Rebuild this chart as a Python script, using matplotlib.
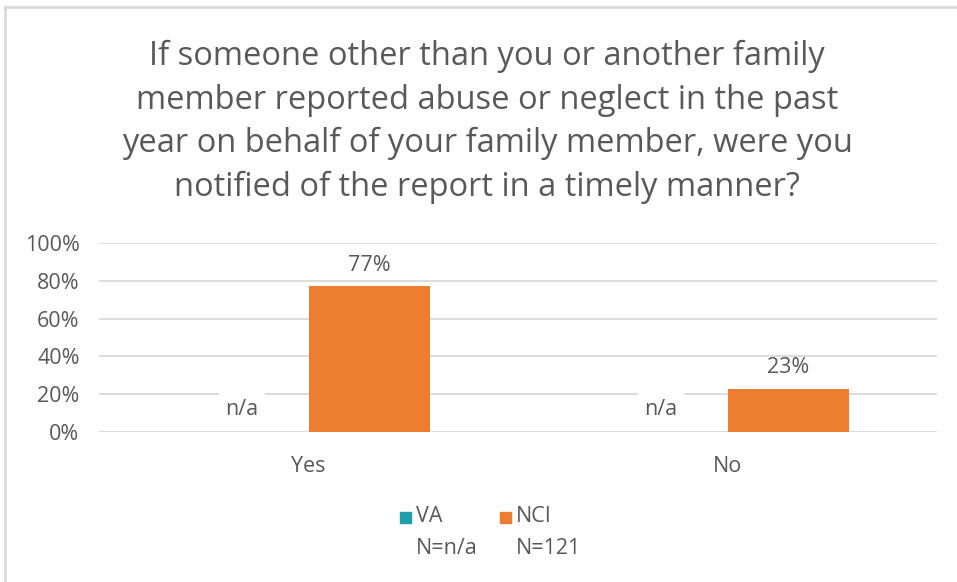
import numpy as np
import matplotlib.pyplot as plt
from matplotlib.lines import Line2D
from matplotlib.patches import Rectangle

plt.rcParams['font.family'] = ['Open Sans', 'DejaVu Sans']

# data
categories = ['Yes', 'No']
series = ['VA', 'NCI']
va_values = [0, 0]
nci_values = [77, 23]
va_labels = ['n/a', 'n/a']
nci_labels = ['77%', '23%']
n_labels = ['N=n/a', 'N=121']
colors = ['#1F9FAA', '#ED7D31']
title = ('If someone other than you or another family\n'
         'member reported abuse or neglect in the past\n'
         'year on behalf of your family member, were you\n'
         'notified of the report in a timely manner?')

text_color = '#595959'
grid_color = '#D9D9D9'
fs = 15.5

fig = plt.figure(figsize=(9.57, 5.82), dpi=100)
W, H = 957, 582
ax = fig.add_axes([99 / W, 1 - 432 / H, (937 - 99) / W, (432 - 243) / H])

x = np.arange(len(categories))
bw = 0.289
ax.bar(x - bw / 2, va_values, bw, color=colors[0], zorder=2)
ax.bar(x + bw / 2, nci_values, bw, color=colors[1], zorder=2)

for i in range(len(categories)):
    ax.text(x[i] + bw / 2, nci_values[i] + 5.5, nci_labels[i], ha='center', va='bottom',
            fontsize=fs, color=text_color)
    ax.text(x[i] - bw / 2 - 0.015, va_values[i] + 12, va_labels[i], ha='center', va='center',
            fontsize=fs, color=text_color, zorder=3,
            bbox=dict(boxstyle='square,pad=0.3', fc='white', ec='none'))

ax.set_xlim(-0.5, 1.5)
ax.set_ylim(0, 100)
ax.set_yticks(np.arange(0, 101, 20))
ax.set_yticklabels([f'{v}%' for v in range(0, 101, 20)])
ax.set_xticks(x)
ax.set_xticklabels(categories)
ax.tick_params(axis='both', length=0, labelsize=fs, colors=text_color)
ax.tick_params(axis='x', pad=17)
ax.tick_params(axis='y', pad=14)
ax.grid(axis='y', color=grid_color, linewidth=1.3, zorder=0)
for s in ax.spines.values():
    s.set_visible(False)

fig.text(487 / W, 1 - 122 / H, title, ha='center', va='center', fontsize=23.5,
         color=text_color, linespacing=1.42)

# legend
for i, name in enumerate(series):
    lx = [400, 500][i]
    fig.patches.append(Rectangle((lx / W, 1 - 523 / H), 11 / W, 11 / H,
                                 transform=fig.transFigure, color=colors[i]))
    fig.text((lx + 16) / W, 1 - 517 / H, name, ha='left', va='center',
             fontsize=fs, color=text_color)
    fig.text((lx + 16) / W, 1 - 548 / H, n_labels[i], ha='left', va='center',
             fontsize=fs, color=text_color)

# frame edges
fig.lines.append(Line2D([5 / W, 5 / W], [0, 1 - 7 / H], transform=fig.transFigure,
                        color='#D9D9D9', linewidth=2))
fig.lines.append(Line2D([5 / W, 1], [1 - 7 / H, 1 - 7 / H], transform=fig.transFigure,
                        color='#D9D9D9', linewidth=2))

fig.savefig('out.png', dpi=100, facecolor='white')
